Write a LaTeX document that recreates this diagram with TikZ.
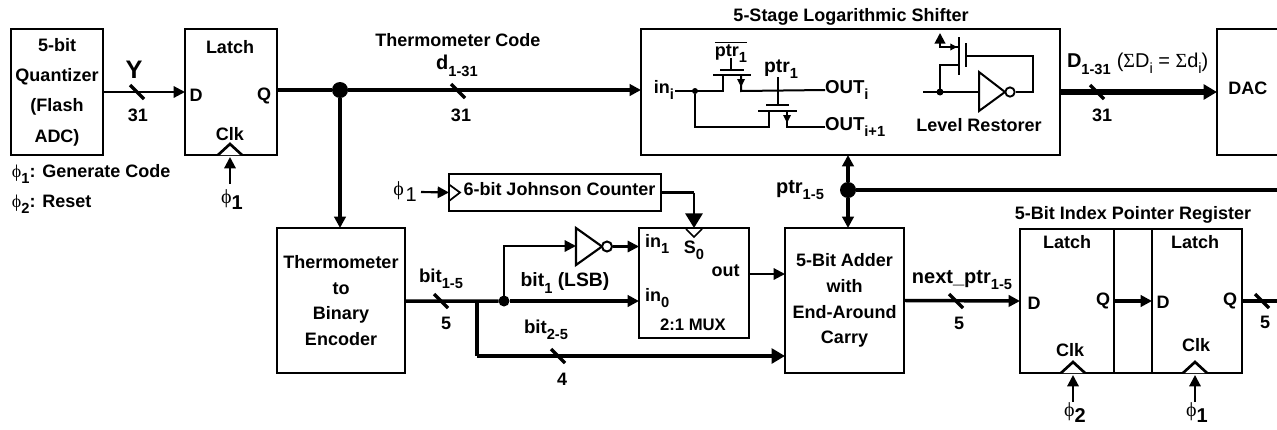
\documentclass[tikz,border=0pt]{standalone}
\usepackage{fontspec}
\setmainfont{Liberation Sans}
\newfontfamily\symf{Liberation Serif}
\usetikzlibrary{arrows.meta,calc}
\newcommand{\sbs}[1]{\raisebox{-0.32em}{\fontsize{11}{11}\selectfont #1}}
\newcommand{\phisym}{{\symf\mdseries ϕ}}
\tikzset{
  x=0.75pt,y=-0.75pt,
  sized/.style 2 args={minimum width=#1*0.75pt,minimum height=#2*0.75pt},
  blk/.style={draw,line width=1.6pt,inner sep=0pt,outer sep=0pt,align=center,font=\fontsize{13.5}{19.3}\selectfont\bfseries},
  lbl/.style={inner sep=0pt,outer sep=0pt,font=\fontsize{13.5}{16}\selectfont\bfseries},
  lblsm/.style={inner sep=0pt,outer sep=0pt,font=\fontsize{12.5}{15}\selectfont\bfseries},
  wire/.style={line width=1.6pt},
  bus/.style={line width=2.6pt},
  busb/.style={line width=3.1pt},
  busc/.style={line width=3.4pt},
  busd/.style={line width=3.9pt},
  arr/.style={-{Triangle[length=8.5pt,width=8.5pt]}},
  arrb/.style={-{Triangle[length=10pt,width=11pt]}},
  dotn/.style={circle,fill=black,inner sep=0pt,outer sep=0pt,minimum size=#1*0.75pt},
  tickm/.style={line width=2.4pt},
  thin wire/.style={line width=1.5pt},
  pics/bustick/.style={code={\draw[tickm] (-7,-7) -- (7,7);}},
  pics/clkup/.style={code={\draw[line width=2pt,fill=white,line join=miter] (-12,0) -- (0,-11) -- (12,0);}},
}
\begin{document}
\begin{tikzpicture}
\useasboundingbox (0,0) rectangle (1277,429);
% blocks
\node[blk,sized={92}{126},font=\fontsize{13.5}{22.8}\selectfont\bfseries] (quant) at (57,92) {5-bit\\Quantizer\\(Flash\\ADC)};
\node[blk,sized={92}{126}] (latcha) at (231,92) {};
\node[blk,sized={419}{126}] (shifter) at (850.5,92) {};
\node[sized={83}{126},inner sep=0pt,outer sep=0pt] (dac) at (1258.5,92) {};
\draw[line width=1.6pt] (1277,29) -- (dac.north west) -- (dac.south west) -- (1277,155);
\node[blk,sized={128}{145}] (thermo) at (341,300.5) {Thermometer\\to\\Binary\\Encoder};
\node[blk,sized={110}{110}] (mux) at (694,283) {};
\node[blk,sized={212}{37}] (john) at (555,192.5) {};
\node[blk,sized={119}{145}] (adder) at (844.5,300.5) {5-Bit Adder\\with\\End-Around\\Carry};
\node[blk,sized={94}{144}] (rega) at (1067,301) {};
\node[blk,sized={90}{144}] (regb) at (1197,301) {};
\draw[line width=1.6pt] (rega.north east) -- (regb.north west) (rega.south east) -- (regb.south west);
% block labels
\node[lbl] (tY) at (134,70) {\fontsize{19}{19}\selectfont Y};
\node[lbl] (t31a) at (138,115) {31};
\node[lbl] (tla) at (230,47) {Latch};
\node[lbl] (tDa) at (196,95) {D};
\node[lbl] (tQa) at (264,96) {Q};
\node[lbl] (tCa) at (230,134) {Clk};
\node[lbl,anchor=west] (tg) at (12,174) {\phisym\sbs{1}: Generate Code};
\node[lbl,anchor=west] (tr) at (12,204) {\phisym\sbs{2}: Reset};
\node[lbl] (tpa) at (232,200) {\fontsize{15}{15}\selectfont\phisym\raisebox{-0.3em}{\fontsize{15}{15}\selectfont 1}};
\node[lbl] (ttc) at (458,40) {Thermometer Code};
\node[lbl] (td) at (457,66) {\fontsize{15}{15}\selectfont d\sbs{1-31}};
\node[lbl] (t31b) at (461,115) {31};
\node[lbl] (tls) at (851,17) {5-Stage Logarithmic Shifter};
\node[lbl] (tlr) at (979,125) {Level Restorer};
\node[lbl,anchor=west] (tD) at (1067,64) {\fontsize{15}{15}\selectfont D\sbs{1-31}\hspace{0.3em}{\fontsize{15}{15}\mdseries\selectfont ({\symf Σ}D\raisebox{-0.3em}{\fontsize{11}{11}\mdseries\selectfont i} = {\symf Σ}d\raisebox{-0.3em}{\fontsize{11}{11}\mdseries\selectfont i})}};
\node[lbl] (t31c) at (1102,115) {31};
\node[lbl] (tdac) at (1258,88) [anchor=west,xshift=-7.4pt*3] {DAC};
\node[lbl] (tp15) at (800,190) {\fontsize{15}{15}\selectfont ptr\sbs{1-5}};
\node[lbl] (tidx) at (1133,215) {5-Bit Index Pointer Register};
\node[lbl] (tlb) at (1067,242) {Latch};
\node[lbl] (tlc) at (1195,242) {Latch};
\node[lbl] (tDb) at (1034,303) {D};
\node[lbl] (tQb) at (1103,301) {Q};
\node[lbl] (tDc) at (1163,302) {D};
\node[lbl] (tQc) at (1230,301) {Q};
\node[lbl] (tCb) at (1070,350) {Clk};
\node[lbl] (tCc) at (1196,345) {Clk};
\node[lbl] (tpb) at (1075,413) {\fontsize{15}{15}\selectfont\phisym\raisebox{-0.3em}{\fontsize{15}{15}\selectfont 2}};
\node[lbl] (tpc) at (1197,413) {\fontsize{15}{15}\selectfont\phisym\raisebox{-0.3em}{\fontsize{15}{15}\selectfont 1}};
\node[lbl] (t5d) at (1265,322) {5};
\node[lbl] (tnp) at (962,280) {\fontsize{15}{15}\selectfont next\_ptr\sbs{1-5}};
\node[lbl] (t5c) at (959,323) {5};
\node[lbl] (tb15) at (441,279) {\fontsize{14}{15}\selectfont bit\sbs{1-5}};
\node[lbl] (t5a) at (446,323) {5};
\node[lbl] (tb1) at (565,283) {\fontsize{14.5}{15}\selectfont bit\sbs{1} (LSB)};
\node[lbl] (tb25) at (546,330) {\fontsize{14}{15}\selectfont bit\sbs{2-5}};
\node[lbl] (t4) at (562,379) {4};
\node[lbl,anchor=west] (tin1) at (645,244) {in\sbs{1}};
\node[lbl,anchor=west] (tin0) at (645,298) {in\sbs{0}};
\node[lbl] (tS) at (694,250) {S\sbs{0}};
\node[lbl] (tout) at (725.5,271) {out};
\node[lblsm] (tmx) at (693,325) {2:1 MUX};
\node[lbl] (tj) at (559.5,189) {6-bit Johnson Counter};
\node[lbl] (tpj) at (405,192) {\fontsize{15}{15}\selectfont\phisym\hspace{0.08em}\raisebox{-0.3em}{\fontsize{15}{15}\mdseries\selectfont 1}};
% connectors
\draw[wire,arr] (quant.east) -- (latcha.west);
\pic at (137,92) {bustick};
\node[dotn=16] (dotq) at (340,90) {};
\draw[bus] ([yshift=1.5pt]latcha.east) -- (dotq);
\draw[bus,arr] (dotq) -- ([yshift=1.5pt]shifter.west);
\pic at (458,91) {bustick};
\draw[bus,arr] (dotq) -- (dotq |- thermo.north);
\draw[busd,arrb] (shifter.east) -- (dac.west);
\pic at (1097,92) {bustick};
\node[dotn=16] (dotp) at (848,190) {};
\coordinate (pright) at (1277,190);
\draw[busb] (dotp) -- (pright);
\draw[busb,arr] (dotp) -- (dotp |- shifter.south);
\draw[busb,arr] (dotp) -- (dotp |- adder.north);
% clocks
\coordinate (clka) at (230,155);
\coordinate (clkb) at (1073,373);
\coordinate (clkc) at (1195,373);
\pic at (clka) {clkup};
\pic at (clkb) {clkup};
\pic at (clkc) {clkup};
\coordinate (pha) at (230,184);
\coordinate (phb) at (1073,402);
\coordinate (phc) at (1195,402);
\draw[wire,arr] (pha) -- ([yshift=-1.5pt]clka);
\draw[wire,arr] (phb) -- ([yshift=-1.5pt]clkb);
\draw[wire,arr] (phc) -- ([yshift=-1.5pt]clkc);
% johnson
\coordinate (phj) at (421,192);
\draw[wire,arr] (phj) -- (john.west);
\draw[line width=1.3pt,line join=miter] (449,184.5) -- (460,192.5) -- (449,201);
\coordinate (jb) at (694,192.5);
\coordinate (s0) at (694,228);
\draw[wire] (john.east) -- (jb);
\draw[line width=1.6pt,-{Triangle[length=11pt,width=13pt]}] (jb) -- (s0);
\draw[line width=1.3pt,line join=miter] (686,229) -- (694,237) -- (702,229);
% bit lines
\node[dotn=11] (dotb) at (504,301) {};
\coordinate (branch) at (477,301);
\draw[bus] ([yshift=-0.5pt]thermo.east) -- (dotb);
\draw[bus,arr] (dotb) -- (mux.west |- dotb);
\pic at (441,301) {bustick};
\coordinate (dn) at (477,356);
\draw[busb] (branch) -- (dn);
\draw[busc,arrb] (dn) -- (adder.west |- dn);
\pic at (558,356) {bustick};
% inverter and mux inputs
\coordinate (invin) at (576,246);
\draw[wire,arr] (dotb) |- (invin);
\draw[line width=1.6pt,line join=miter] (576,228) -- (602,246.5) -- (576,265) -- cycle;
\node[circle,draw,line width=1.5pt,fill=white,inner sep=0pt,minimum size=7.5pt] (inva) at (607,246.5) {};
\draw[wire,arr] (inva) -- (mux.west |- inva);
\draw[wire,arr] (mux.east |- 0,274) -- (adder.west |- 0,274);
% adder to register
\draw[bus,arr] (adder.east) -- (rega.west);
\pic at (956,301) {bustick};
\draw[bus,arr] (rega.east) -- (regb.west);
\coordinate (regout) at (1277,301);
\draw[bus] (regb.east) -- (regout);
\pic at (1262,301) {bustick};
% inside the shifter: pass transistors
\node[lbl] (tin) at (664,90) {in\sbs{i}};
\node[lbl] (tpt) at (731,52) {$\overline{\hbox{\fontsize{13.5}{16}\selectfont\bfseries ptr\sbs{1}}}$};
\node[lbl] (tpu) at (781,69) {\fontsize{14.5}{15}\selectfont ptr\sbs{1}};
\node[lbl,anchor=west] (toi) at (825,90) {\fontsize{14}{15}\selectfont OUT\sbs{i}};
\node[lbl,anchor=west] (toj) at (825,127) {\fontsize{14}{15}\selectfont OUT\sbs{i+1}};
\coordinate (a0) at (675,91);
\node[dotn=6] (indot) at (695,91) {};
\draw[thin wire] (a0) -- (723,91) -- (723,75);
\draw[thin wire] (713,75) -- (751,75) (720,70) -- (744,70) (731,58) -- (731,70);
\draw[thin wire] (741,75) -- (741,91) -- (toi.west);
\draw[thin wire] (indot) -- (695,127) -- (769,127) -- (769,111);
\draw[thin wire] (758,111) -- (797,111) (766,105) -- (789,105) (778,77) -- (778,105);
\draw[thin wire] (787,111) -- (787,127) -- (toj.west);
\fill (737,79) -- (745,79) -- (741,87) -- cycle;
\fill (783,115) -- (791,115) -- (787,123) -- cycle;
% level restorer
\coordinate (r0) at (923,92);
\node[dotn=7] (rdot) at (940,92) {};
\draw[thin wire] (r0) -- (979,92);
\draw[line width=1.5pt,line join=miter] (979,72) -- (1005,92) -- (979,111) -- cycle;
\node[circle,draw,line width=1.4pt,fill=white,inner sep=0pt,minimum size=7pt] (invb) at (1010,92) {};
\draw[thin wire] (invb) -- (1033,92) -- (1033,56) -- (966,56);
\draw[thin wire] (966,43) -- (966,67) (959,37) -- (959,75);
\draw[thin wire] (rdot) -- (940,65) -- (959,65);
\draw[thin wire,-{Triangle[length=8pt,width=8pt]}] (959,47) -- (940,47) -- (940,33);
\draw[line width=0.9pt,-{Triangle[length=5pt,width=5pt]}] (941,47) -- (957,47);
\end{tikzpicture}
\end{document}
